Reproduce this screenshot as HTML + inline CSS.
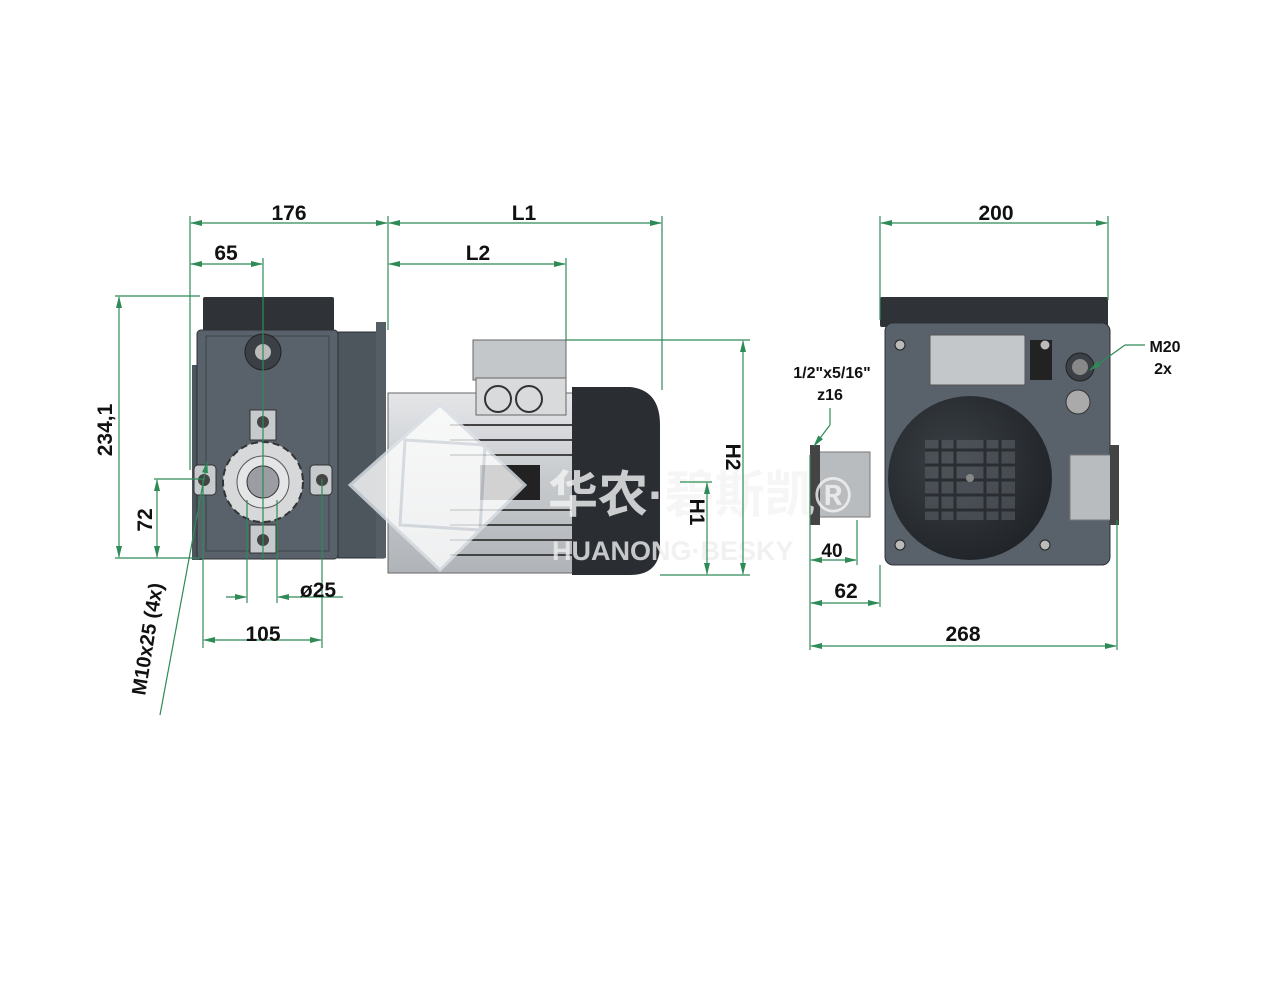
<!DOCTYPE html>
<html><head><meta charset="utf-8"><style>
html,body{margin:0;padding:0;background:#fff;}
svg{display:block;}
text{font-family:"Liberation Sans","Noto Sans CJK SC",sans-serif;font-weight:bold;fill:#111;}
</style></head><body>
<svg width="1269" height="981" viewBox="0 0 1269 981" xmlns="http://www.w3.org/2000/svg">
<defs>
<marker id="a" markerWidth="12" markerHeight="8" refX="11" refY="4" orient="auto-start-reverse" markerUnits="userSpaceOnUse"><path d="M0,1 L12,4 L0,7 Z" fill="#2e8b57"/></marker>
<radialGradient id="fan" cx="0.4" cy="0.4" r="0.7"><stop offset="0" stop-color="#3b4046"/><stop offset="1" stop-color="#1e2226"/></radialGradient>
<linearGradient id="mot" x1="0" y1="0" x2="0" y2="1"><stop offset="0" stop-color="#e4e6e8"/><stop offset="0.5" stop-color="#c6c9cc"/><stop offset="1" stop-color="#b0b4b8"/></linearGradient>
</defs>

<!-- LEFT VIEW -->
<rect x="203" y="297" width="131" height="38" fill="#2f3338" rx="2"/>
<rect x="192" y="365" width="10" height="195" fill="#4c545c"/>
<rect x="197" y="330" width="141" height="229" fill="#59626b" stroke="#2c3035" rx="4"/>
<rect x="206" y="336" width="123" height="215" fill="none" stroke="#3c4248"/>
<rect x="338" y="332" width="46" height="226" fill="#4d555d" stroke="#2c3035"/>
<rect x="376" y="322" width="10" height="236" fill="#555d65"/>
<circle cx="263" cy="352" r="18" fill="#3a4046" stroke="#222"/>
<circle cx="263" cy="352" r="8" fill="#bbb"/>
<path d="M250,410 h26 v30 h-26z" fill="#c7cacd" stroke="#333"/>
<circle cx="263" cy="422" r="6" fill="#444"/>
<path d="M250,525 h26 v28 h-26z" fill="#c7cacd" stroke="#333"/>
<circle cx="263" cy="540" r="6" fill="#444"/>
<rect x="194" y="465" width="22" height="30" fill="#c7cacd" stroke="#333" rx="4"/>
<circle cx="204" cy="480" r="6" fill="#444"/>
<rect x="310" y="465" width="22" height="30" fill="#c7cacd" stroke="#333" rx="4"/>
<circle cx="322" cy="480" r="6" fill="#444"/>
<circle cx="263" cy="482" r="40" fill="#d6d8da" stroke="#333" stroke-width="2" stroke-dasharray="7 4"/>
<circle cx="263" cy="482" r="26" fill="#e4e5e6" stroke="#555"/>
<circle cx="263" cy="482" r="16" fill="#9a9ea2" stroke="#333"/>
<!-- motor -->
<rect x="388" y="393" width="186" height="180" fill="url(#mot)" stroke="#666"/>
<g stroke="#444" stroke-width="2">
<line x1="450" y1="425" x2="572" y2="425"/><line x1="450" y1="440" x2="572" y2="440"/><line x1="450" y1="455" x2="572" y2="455"/>
<line x1="450" y1="510" x2="572" y2="510"/><line x1="450" y1="525" x2="572" y2="525"/><line x1="450" y1="540" x2="572" y2="540"/><line x1="450" y1="555" x2="572" y2="555"/>
</g>
<rect x="480" y="465" width="60" height="35" fill="#222"/>
<rect x="473" y="340" width="93" height="40" fill="#c4c7ca" stroke="#666"/>
<rect x="476" y="378" width="90" height="37" fill="#d8dadc" stroke="#666"/>
<circle cx="498" cy="399" r="13" fill="none" stroke="#333" stroke-width="2"/>
<circle cx="529" cy="399" r="13" fill="none" stroke="#333" stroke-width="2"/>
<path d="M572,387 H630 Q660,390 660,425 V545 Q660,575 630,575 H572 Z" fill="#2a2e32"/>
<!-- RIGHT VIEW -->
<rect x="880" y="297" width="228" height="30" fill="#2f3338" rx="2"/>
<rect x="885" y="323" width="225" height="242" fill="#59626b" stroke="#2c3035" rx="8"/>
<rect x="930" y="335" width="95" height="50" fill="#c4c7ca" stroke="#555"/>
<rect x="1030" y="340" width="22" height="40" fill="#222"/>
<circle cx="1080" cy="367" r="14" fill="#3a4046" stroke="#222"/>
<circle cx="1080" cy="367" r="8" fill="#888"/>
<circle cx="1078" cy="402" r="12" fill="#aaa" stroke="#333"/>
<circle cx="900" cy="345" r="5" fill="#bbb" stroke="#222"/>
<circle cx="1045" cy="345" r="5" fill="#bbb" stroke="#222"/>
<circle cx="900" cy="545" r="5" fill="#bbb" stroke="#222"/>
<circle cx="1045" cy="545" r="5" fill="#bbb" stroke="#222"/>
<rect x="815" y="452" width="55" height="65" fill="#b8bcbf" stroke="#777"/>
<rect x="810" y="445" width="10" height="80" fill="#444"/>
<rect x="1070" y="455" width="45" height="65" fill="#b8bcbf" stroke="#777"/>
<rect x="1110" y="445" width="9" height="80" fill="#444"/>
<circle cx="970" cy="478" r="82" fill="url(#fan)"/>
<g fill="#5a5f65">
<rect x="925" y="440" width="90" height="80" opacity="0.6"/>
</g>
<g stroke="#2a2e32" stroke-width="3"><line x1="925" y1="450" x2="1015" y2="450"/><line x1="925" y1="465" x2="1015" y2="465"/><line x1="925" y1="480" x2="1015" y2="480"/><line x1="925" y1="495" x2="1015" y2="495"/><line x1="925" y1="510" x2="1015" y2="510"/><line x1="940" y1="440" x2="940" y2="520"/><line x1="955" y1="440" x2="955" y2="520"/><line x1="985" y1="440" x2="985" y2="520"/><line x1="1000" y1="440" x2="1000" y2="520"/></g>
<circle cx="970" cy="478" r="4" fill="#888"/>

<!-- watermark -->
<g opacity="0.8">
<path d="M440,405 L525,485 L440,570 L350,485 Z" fill="#fff" stroke="#dde3ea" stroke-width="3"/>
<path d="M405,440 L485,445 L480,530 L400,525 Z" fill="none" stroke="#d8dde3" stroke-width="3"/>
<text x="548" y="512" font-size="50" font-weight="normal" style="fill:#f4f4f4">华农·碧斯凯®</text>
<text x="552" y="560" font-size="27" style="fill:#eeeeee">HUANONG·BESKY</text>
</g>

<!-- DIMENSIONS -->
<g stroke="#2e8b57" stroke-width="1.2" fill="none">
<line x1="190" y1="216" x2="190" y2="470"/>
<line x1="388" y1="216" x2="388" y2="330"/>
<line x1="263" y1="258" x2="263" y2="560"/>
<line x1="566" y1="258" x2="566" y2="340"/>
<line x1="662" y1="216" x2="662" y2="390"/>
<line x1="191" y1="223" x2="387" y2="223" marker-start="url(#a)" marker-end="url(#a)"/>
<line x1="389" y1="223" x2="661" y2="223" marker-start="url(#a)" marker-end="url(#a)"/>
<line x1="191" y1="264" x2="262" y2="264" marker-start="url(#a)" marker-end="url(#a)"/>
<line x1="389" y1="264" x2="565" y2="264" marker-start="url(#a)" marker-end="url(#a)"/>
<line x1="115" y1="296" x2="200" y2="296"/>
<line x1="115" y1="558" x2="200" y2="558"/>
<line x1="154" y1="479" x2="205" y2="479"/>
<line x1="119" y1="297" x2="119" y2="557" marker-start="url(#a)" marker-end="url(#a)"/>
<line x1="157" y1="480" x2="157" y2="557" marker-start="url(#a)" marker-end="url(#a)"/>
<line x1="203" y1="479" x2="203" y2="648"/>
<line x1="322" y1="479" x2="322" y2="648"/>
<line x1="247" y1="500" x2="247" y2="603"/>
<line x1="277" y1="500" x2="277" y2="603"/>
<line x1="226" y1="597" x2="246" y2="597" marker-end="url(#a)"/>
<line x1="343" y1="597" x2="278" y2="597" marker-end="url(#a)"/>
<line x1="204" y1="640" x2="321" y2="640" marker-start="url(#a)" marker-end="url(#a)"/>
<line x1="160" y1="715" x2="207" y2="462" marker-end="url(#a)"/>
<line x1="566" y1="340" x2="750" y2="340"/>
<line x1="660" y1="575" x2="750" y2="575"/>
<line x1="680" y1="482" x2="712" y2="482"/>
<line x1="743" y1="341" x2="743" y2="574" marker-start="url(#a)" marker-end="url(#a)"/>
<line x1="707" y1="483" x2="707" y2="574" marker-start="url(#a)" marker-end="url(#a)"/>
<line x1="880" y1="216" x2="880" y2="320"/>
<line x1="1108" y1="216" x2="1108" y2="300"/>
<line x1="881" y1="223" x2="1107" y2="223" marker-start="url(#a)" marker-end="url(#a)"/>
<line x1="810" y1="455" x2="810" y2="650"/>
<line x1="1117" y1="520" x2="1117" y2="650"/>
<line x1="880" y1="565" x2="880" y2="607"/>
<line x1="857" y1="520" x2="857" y2="565"/>
<line x1="811" y1="646" x2="1116" y2="646" marker-start="url(#a)" marker-end="url(#a)"/>
<line x1="811" y1="603" x2="879" y2="603" marker-start="url(#a)" marker-end="url(#a)"/>
<line x1="811" y1="560" x2="856" y2="560" marker-start="url(#a)" marker-end="url(#a)"/>
<line x1="830" y1="408" x2="830" y2="425"/>
<line x1="830" y1="425" x2="814" y2="446" marker-end="url(#a)"/>
<line x1="1145" y1="345" x2="1125" y2="345"/>
<line x1="1125" y1="345" x2="1090" y2="370" marker-end="url(#a)"/>
</g>

<g font-size="21" text-anchor="middle">
<text x="289" y="220">176</text>
<text x="524" y="220">L1</text>
<text x="226" y="260">65</text>
<text x="478" y="260">L2</text>
<text x="996" y="220">200</text>
<text x="263" y="641">105</text>
<text x="318" y="597">ø25</text>
<text x="963" y="641">268</text>
<text x="846" y="598">62</text>
<text x="832" y="557" font-size="19">40</text>
<text transform="translate(112,430) rotate(-90)">234,1</text>
<text transform="translate(152,520) rotate(-90)">72</text>
<text transform="translate(726,457) rotate(90)">H2</text>
<text transform="translate(690,512) rotate(90)">H1</text>
<text transform="translate(154,640) rotate(-81)" font-size="20">M10x25 (4x)</text>
</g>
<g font-size="16" text-anchor="middle">
<text x="832" y="378">1/2"x5/16"</text>
<text x="830" y="400">z16</text>
<text x="1165" y="352">M20</text>
<text x="1163" y="374">2x</text>
</g>
</svg>
</body></html>
